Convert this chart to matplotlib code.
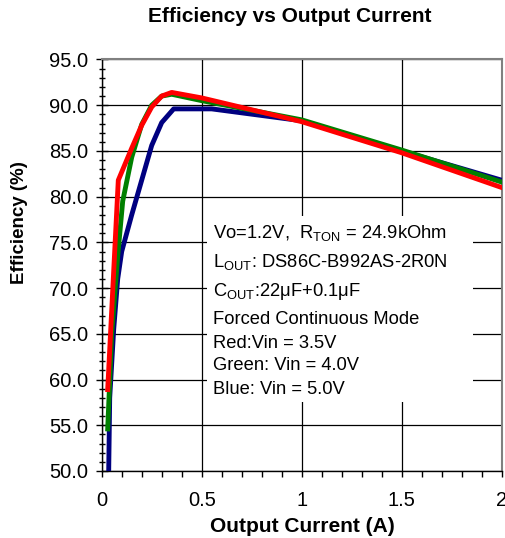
import matplotlib
matplotlib.use("Agg")
import matplotlib.pyplot as plt
from matplotlib.ticker import MultipleLocator, FormatStrFormatter
from matplotlib.patches import Rectangle

plt.rcParams["font.family"] = ["Liberation Sans", "DejaVu Sans"]
plt.rcParams["mathtext.fontset"] = "custom"
plt.rcParams["mathtext.rm"] = "Liberation Sans"
plt.rcParams["mathtext.it"] = "Liberation Sans:italic"

# curves
red_x = [0.03, 0.083, 0.15, 0.2, 0.25, 0.3, 0.35, 0.5, 1.0, 1.5, 2.0]
red_y = [58.9, 81.8, 85.3, 87.8, 89.8, 91.0, 91.4, 90.8, 88.2, 84.8, 81.0]

green_x = [0.03, 0.05, 0.08, 0.105, 0.15, 0.2, 0.25, 0.3, 0.35, 0.5, 1.0, 1.5, 2.0]
green_y = [54.6, 65.0, 73.5, 79.5, 84.3, 87.9, 90.0, 91.0, 91.2, 90.5, 88.4, 85.1, 81.6]

blue_x = [0.035, 0.04, 0.06, 0.08, 0.1, 0.15, 0.2, 0.25, 0.3, 0.36, 0.55, 1.0, 1.5, 2.0]
blue_y = [50.0, 58.0, 65.5, 71.0, 74.0, 78.0, 81.8, 85.6, 88.1, 89.6, 89.6, 88.3, 85.0, 81.8]

notes = [
    r"Vo=1.2V,  R$_{\mathrm{TON}}$ = 24.9kOhm",
    r"L$_{\mathrm{OUT}}$: DS86C-B992AS-2R0N",
    r"C$_{\mathrm{OUT}}$:22μF+0.1μF",
    "Forced Continuous Mode",
    "Red:Vin = 3.5V",
    "Green: Vin = 4.0V",
    "Blue: Vin = 5.0V",
]
note_y = [233, 262, 291, 319, 343, 366, 390]  # pixel rows from the top

W, H = 506, 538
fig = plt.figure(figsize=(W / 100, H / 100), dpi=100)
ax = fig.add_axes([101.7 / W, 1 - 471 / H, 400 / W, (471 - 59.5) / H])

ax.plot(blue_x, blue_y, color="#000080", lw=3.5, zorder=3)
ax.plot(green_x, green_y, color="#008000", lw=3.5, zorder=3)
ax.plot(red_x, red_y, color="#ff0000", lw=3.5, zorder=3)

ax.set_xlim(0, 2)
ax.set_ylim(50, 95)
ax.xaxis.set_major_locator(MultipleLocator(0.5))
ax.xaxis.set_minor_locator(MultipleLocator(0.1))
ax.yaxis.set_major_locator(MultipleLocator(5))
ax.yaxis.set_minor_locator(MultipleLocator(1))
ax.yaxis.set_major_formatter(FormatStrFormatter("%.1f"))
ax.set_xticks([0, 0.5, 1, 1.5, 2])
ax.set_xticklabels(["0", "0.5", "1", "1.5", "2"])

ax.grid(True, which="major", color="black", lw=0.9)
ax.set_axisbelow(True)
ax.tick_params(axis="y", which="major", direction="inout", length=8.5, width=1, labelsize=14.5, pad=5.5)
ax.tick_params(axis="y", which="minor", direction="inout", length=5, width=1)
ax.tick_params(axis="x", which="both", direction="out", length=4.5, width=1, labelsize=14.5, pad=10)

for s in ["top", "right"]:
    ax.spines[s].set_color("#808080")
    ax.spines[s].set_linewidth(1.5)
for s in ["left", "bottom"]:
    ax.spines[s].set_color("black")
    ax.spines[s].set_linewidth(1.0)

# white panel behind the notes
ax.add_patch(Rectangle((0.525, 57.5), 1.33, 20.4, facecolor="white", edgecolor="none", zorder=1))
for txt, py in zip(notes, note_y):
    fig.text(213 / W, 1 - py / H, txt, fontsize=13.2, va="center", ha="left")

fig.text(290 / W, 1 - 16 / H, "Efficiency vs Output Current", fontsize=15,
         fontweight="bold", ha="center", va="center")
fig.text(302 / W, 1 - 526 / H, "Output Current (A)", fontsize=15,
         fontweight="bold", ha="center", va="center")
fig.text(20 / W, 1 - 223 / H, "Efficiency (%)", fontsize=13.5, rotation=90,
         fontweight="bold", ha="center", va="center")

fig.savefig("out.png", dpi=100)
